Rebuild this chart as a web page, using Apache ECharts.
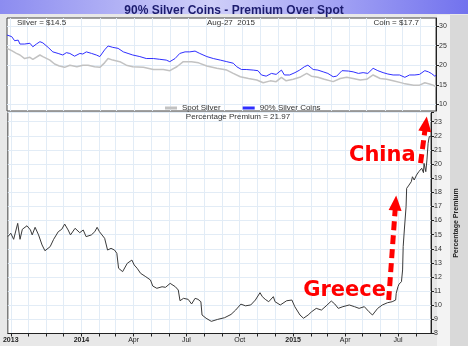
<!DOCTYPE html>
<html><head><meta charset="utf-8">
<script src="https://cdn.jsdelivr.net/npm/echarts@6/dist/echarts.min.js"></script>
<style>html,body{margin:0;padding:0;background:#e8e8e8}#c{width:468px;height:346px}</style>
</head><body><div id="c"></div>
<script>
// ---- data ----
const spotDates = ['2013-08-27','2013-09-04','2013-09-12','2013-09-18','2013-09-26','2013-10-05','2013-10-10','2013-10-22','2013-10-27','2013-11-08','2013-11-16','2013-11-24','2013-12-03','2013-12-12','2013-12-24','2014-01-03','2014-01-12','2014-01-23','2014-02-01','2014-02-09','2014-02-15','2014-02-23','2014-03-07','2014-03-18','2014-03-29','2014-04-16','2014-05-03','2014-05-20','2014-05-31','2014-06-12','2014-06-23','2014-07-07','2014-07-19','2014-08-02','2014-08-19','2014-09-05','2014-09-16','2014-09-28','2014-10-12','2014-10-26','2014-11-06','2014-11-18','2014-11-28','2014-12-07','2014-12-15','2014-12-27','2015-01-07','2015-01-19','2015-01-27','2015-02-07','2015-02-18','2015-03-05','2015-03-17','2015-03-28','2015-04-08','2015-04-20','2015-05-01','2015-05-12','2015-05-24','2015-06-04','2015-06-15','2015-07-03','2015-07-20','2015-07-30','2015-08-08','2015-08-16','2015-08-22','2015-08-27'];
const spotValues = [24.3,23.7,23.0,22.6,21.7,22.0,21.5,22.6,22.2,21.3,20.3,19.8,19.45,20.0,19.6,20.0,20.0,19.6,19.45,20.6,21.7,21.3,20.9,20.0,19.6,19.45,18.9,18.9,18.6,19.6,20.9,20.9,20.6,19.8,19.2,18.75,17.9,17.05,16.6,16.2,15.5,16.0,15.8,16.9,16.0,16.4,16.9,17.9,17.2,16.9,16.4,15.8,16.6,16.9,16.6,16.2,16.4,17.5,16.6,16.4,16.0,15.35,14.9,14.9,15.5,15.2,14.9,14.5];

const coinDates = ['2013-08-27','2013-09-04','2013-09-09','2013-09-15','2013-09-18','2013-09-26','2013-10-05','2013-10-10','2013-10-16','2013-10-22','2013-10-27','2013-11-05','2013-11-13','2013-11-22','2013-11-30','2013-12-06','2013-12-12','2013-12-20','2013-12-29','2014-01-03','2014-01-09','2014-01-18','2014-01-26','2014-02-01','2014-02-09','2014-02-15','2014-02-23','2014-03-04','2014-03-13','2014-03-21','2014-03-29','2014-04-10','2014-04-21','2014-05-03','2014-05-14','2014-05-25','2014-05-31','2014-06-09','2014-06-17','2014-06-26','2014-07-04','2014-07-13','2014-07-21','2014-08-02','2014-08-13','2014-08-25','2014-09-05','2014-09-16','2014-09-22','2014-09-30','2014-10-08','2014-10-20','2014-10-28','2014-11-03','2014-11-11','2014-11-20','2014-11-28','2014-12-07','2014-12-12','2014-12-21','2014-12-30','2015-01-07','2015-01-15','2015-01-21','2015-01-30','2015-02-07','2015-02-16','2015-02-24','2015-03-05','2015-03-11','2015-03-20','2015-03-31','2015-04-08','2015-04-17','2015-04-25','2015-05-03','2015-05-12','2015-05-20','2015-05-29','2015-06-06','2015-06-15','2015-06-26','2015-07-05','2015-07-13','2015-07-22','2015-07-30','2015-08-08','2015-08-14','2015-08-19','2015-08-25','2015-08-27'];
const coinValues = [27.7,27.3,26.25,26.4,25.4,25.4,25.6,24.7,25.4,26.0,25.7,24.55,23.4,23.0,22.6,23.2,23.0,22.3,23.0,22.85,23.4,23.0,22.6,22.2,23.9,24.9,24.55,24.3,23.4,23.0,22.6,22.2,21.7,21.7,21.5,21.3,20.9,21.7,23.0,23.4,23.4,23.6,23.0,22.2,21.7,21.3,20.9,20.5,19.6,18.9,18.9,18.75,18.6,17.5,17.2,17.9,17.65,18.75,17.5,17.5,18.1,18.75,19.6,20.0,18.9,18.75,18.3,17.9,17.05,17.2,18.6,18.5,18.3,17.9,18.1,17.9,19.2,18.6,18.1,17.75,17.5,17.5,16.9,17.5,17.5,17.65,18.6,18.3,17.9,17.2,17.4];

const premiumDates = ['2013-08-27','2013-09-01','2013-09-06','2013-09-13','2013-09-17','2013-09-21','2013-09-29','2013-10-05','2013-10-08','2013-10-13','2013-10-19','2013-10-25','2013-10-30','2013-11-08','2013-11-14','2013-11-22','2013-11-28','2013-12-03','2013-12-09','2013-12-13','2013-12-21','2013-12-29','2014-01-04','2014-01-09','2014-01-18','2014-01-24','2014-01-28','2014-02-01','2014-02-10','2014-02-15','2014-02-21','2014-02-27','2014-03-03','2014-03-06','2014-03-13','2014-03-21','2014-03-29','2014-04-02','2014-04-07','2014-04-13','2014-04-22','2014-04-30','2014-05-04','2014-05-11','2014-05-20','2014-05-26','2014-06-03','2014-06-12','2014-06-17','2014-06-20','2014-06-26','2014-07-04','2014-07-10','2014-07-16','2014-07-21','2014-07-26','2014-07-28','2014-08-04','2014-08-13','2014-08-24','2014-09-05','2014-09-16','2014-09-24','2014-10-03','2014-10-11','2014-10-20','2014-10-28','2014-11-05','2014-11-09','2014-11-14','2014-11-20','2014-11-28','2014-12-01','2014-12-10','2014-12-21','2014-12-30','2015-01-04','2015-01-13','2015-01-19','2015-01-27','2015-02-02','2015-02-10','2015-02-19','2015-02-27','2015-03-08','2015-03-14','2015-03-20','2015-03-28','2015-04-08','2015-04-17','2015-04-25','2015-05-04','2015-05-12','2015-05-18','2015-05-27','2015-06-04','2015-06-13','2015-06-21','2015-06-27','2015-06-28','2015-07-01','2015-07-03','2015-07-07','2015-07-09','2015-07-10','2015-07-12','2015-07-15','2015-07-16','2015-07-19','2015-07-24','2015-07-26','2015-07-29','2015-08-02','2015-08-06','2015-08-09','2015-08-11','2015-08-14','2015-08-15','2015-08-18','2015-08-20','2015-08-22','2015-08-24','2015-08-27'];
const premiumValues = [14.86,15.1,14.67,15.8,14.67,15.38,15.63,15.33,14.98,15.52,14.98,14.27,13.86,14.15,14.67,15.21,15.38,15.75,15.33,14.98,15.45,15.14,15.33,14.86,14.98,15.21,15.52,15.21,14.74,13.91,14.03,13.91,13.68,12.62,12.38,12.97,13.2,12.85,12.62,12.26,12.02,11.79,11.36,11.2,11.31,11.27,11.55,11.31,11.08,10.32,10.49,10.42,10.09,10.49,10.42,10.25,9.31,9.08,8.86,9.0,9.12,9.35,9.66,10.08,9.96,10.02,10.37,10.89,10.61,10.42,10.25,10.61,10.25,10.02,10.32,10.37,9.9,9.31,9.08,9.31,9.54,9.78,9.66,9.95,10.3,10.09,9.78,9.9,10.02,9.9,9.78,9.9,9.54,9.31,9.78,10.02,10.18,10.25,10.37,10.85,11.31,11.5,11.67,12.5,14.15,15.33,16.98,18.28,18.45,18.75,19.1,18.87,19.22,19.46,19.35,19.7,19.39,20.05,19.46,20.29,21.47,21.94,21.97];

const upperTicks = [10, 15, 20, 25, 30];
const xLabelDates = ['2013-09-01','2014-01-01','2014-04-01','2014-07-01','2014-10-01','2015-01-01','2015-04-01','2015-07-01'];
const xLabelTexts = ['2013','2014','Apr','Jul','Oct','2015','Apr','Jul'];

const annotationTexts = ['Greece','China'];
const annotationDates = ['2015-03-31','2015-06-04'];
const annotationValues = [11.05,20.6];
const arrowFrom = [['2015-06-15',10.37],['2015-08-09',20.07]];
const arrowTo = [['2015-06-27',17.24],['2015-08-18',22.84]];

const headerTexts = {silver:'Silver = $14.5', date:'Aug-27  2015', coin:'Coin = $17.7', premium:'Percentage Premium = 21.97'};

// ---- build ----
const T = s => Date.parse(s + 'T00:00:00Z');
const zip = (d, v) => d.map((x, i) => [T(x), v[i]]);
const monthTicks = [];
for (let y = 2013, m = 9; y < 2015 || (y === 2015 && m <= 8); ) {
  monthTicks.push(T(y + '-' + String(m).padStart(2, '0') + '-01'));
  m++; if (m > 12) { m = 1; y++; }
}
const labelTicks = xLabelDates.map(T);
const labelMap = {};
labelTicks.forEach((t, i) => { labelMap[t] = xLabelTexts[i]; });
const xMin = T('2013-08-27'), xMax = T('2015-08-27');

const gridLineColor = '#e2ecf6';
const font = 'Liberation Sans, Arial, sans-serif';

const chart = echarts.init(document.getElementById('c'), null, {renderer: 'canvas'});
const option = {
  animation: false,
  backgroundColor: '#e8e8e8',
  textStyle: {fontFamily: font},
  title: {
    text: '90% Silver Coins - Premium Over Spot',
    left: 'center', top: 0,
    textStyle: {fontSize: 12, fontWeight: 'bold', color: '#1c1c6e', fontFamily: font}
  },
  graphic: [
    {type: 'rect', z: -10, shape: {x: 0, y: 0, width: 468, height: 14},
     style: {fill: new echarts.graphic.LinearGradient(0, 0, 1, 0, [
       {offset: 0, color: '#8c8cf0'}, {offset: 0.45, color: '#cfcff9'}, {offset: 1, color: '#7272ee'}])}},
    {type: 'rect', z: -10, shape: {x: 437, y: 15, width: 13, height: 331}, style: {fill: '#f3f3f3'}},
    {type: 'rect', z: -10, shape: {x: 450, y: 15, width: 18, height: 331}, style: {fill: '#d9d9d9'}},
    {type: 'text', z: 100, x: 17, y: 19, style: {text: headerTexts.silver, fontSize: 8, fill: '#333', fontFamily: font}},
    {type: 'text', z: 100, x: 231, y: 19, style: {text: headerTexts.date, fontSize: 8, fill: '#333', align: 'center', fontFamily: font}},
    {type: 'text', z: 100, x: 419, y: 19, style: {text: headerTexts.coin, fontSize: 8, fill: '#333', align: 'right', fontFamily: font}},
    {type: 'text', z: 100, x: 238, y: 113, style: {text: headerTexts.premium, fontSize: 8, fill: '#333', align: 'center', fontFamily: font}}
  ],
  legend: {
    left: 160, top: 99, itemWidth: 12, itemHeight: 3, icon: 'rect', itemGap: 22,
    textStyle: {fontSize: 8, color: '#333', fontFamily: font},
    data: ['Spot Silver', '90% Silver Coins']
  },
  grid: [
    {left: 7, right: 32, top: 18, height: 93, show: true, backgroundColor: '#fff', borderColor: '#444', borderWidth: 1},
    {left: 7, right: 32, top: 112.5, height: 221, show: true, backgroundColor: '#fff', borderColor: '#444', borderWidth: 1}
  ],
  xAxis: [
    {type: 'value', gridIndex: 0, min: xMin, max: xMax,
     axisLine: {show: false}, axisLabel: {show: false},
     axisTick: {show: false, customValues: monthTicks},
     splitLine: {show: true, lineStyle: {color: gridLineColor, width: 1}}},
    {type: 'value', gridIndex: 1, min: xMin, max: xMax,
     axisLine: {show: true, onZero: false, lineStyle: {color: '#222', width: 1}},
     axisTick: {show: true, length: 3, lineStyle: {color: '#222'}, customValues: monthTicks},
     axisLabel: {show: true, customValues: labelTicks, fontSize: 7, color: '#222', margin: 3,
       formatter: v => { const s = labelMap[v] || ''; return /^\d+$/.test(s) ? '{b|' + s + '}' : s; },
       rich: {b: {fontSize: 7, fontWeight: 'bold', color: '#222'}}},
     splitLine: {show: true, lineStyle: {color: gridLineColor, width: 1}}}
  ],
  yAxis: [
    {type: 'value', gridIndex: 0, position: 'right', min: 8.3, max: 32.05,
     axisLine: {show: true, lineStyle: {color: '#222'}},
     axisTick: {show: true, length: 3, lineStyle: {color: '#222'}, customValues: upperTicks},
     axisLabel: {fontSize: 7, color: '#333', margin: 3, customValues: upperTicks},
     splitLine: {show: true, lineStyle: {color: gridLineColor}}},
    {type: 'value', gridIndex: 1, position: 'right', min: 8, max: 23.65, interval: 1,
     name: 'Percentage Premium', nameLocation: 'middle', nameRotate: 90, nameGap: 22,
     nameTextStyle: {fontSize: 7, fontWeight: 'bold', color: '#222', fontFamily: font},
     axisLine: {show: true, lineStyle: {color: '#222'}},
     axisTick: {show: true, length: 3, lineStyle: {color: '#222'}},
     axisLabel: {fontSize: 7, color: '#333', margin: 3, formatter: v => (Math.abs(v - Math.round(v)) < 1e-6 ? String(v) : '')},
     splitLine: {show: true, lineStyle: {color: gridLineColor}}}
  ],
  series: [
    {name: 'Spot Silver', type: 'line', xAxisIndex: 0, yAxisIndex: 0, data: zip(spotDates, spotValues),
     showSymbol: false, symbol: 'none', color: '#c2c2c2', lineStyle: {width: 1.5, color: '#c2c2c2'}},
    {name: '90% Silver Coins', type: 'line', xAxisIndex: 0, yAxisIndex: 0, data: zip(coinDates, coinValues),
     showSymbol: false, symbol: 'none', color: '#2f2fff', lineStyle: {width: 1, color: '#2f2fff'}},
    {name: 'Percentage Premium', type: 'line', xAxisIndex: 1, yAxisIndex: 1, data: zip(premiumDates, premiumValues),
     showSymbol: false, symbol: 'none', color: '#3a3a3a', lineStyle: {width: 1, color: '#3a3a3a'},
     markPoint: {
       silent: true, symbol: 'circle', symbolSize: 0,
       label: {show: true, position: 'inside', color: '#ff0000', fontSize: 21, fontWeight: 'bold', fontFamily: 'DejaVu Sans', formatter: p => p.name},
       data: annotationTexts.map((t, i) => ({name: t, coord: [T(annotationDates[i]), annotationValues[i]]}))
     },
     markLine: {
       silent: true, symbol: ['none', 'triangle'], symbolSize: [13, 15],
       label: {show: false},
       lineStyle: {color: '#ff0000', width: 5, type: [9, 5], opacity: 1},
       emphasis: {disabled: true},
       data: arrowFrom.map((f, i) => [{coord: [T(f[0]), f[1]]}, {coord: [T(arrowTo[i][0]), arrowTo[i][1]]}])
     }}
  ]
};
chart.setOption(option);
</script>
</body></html>
